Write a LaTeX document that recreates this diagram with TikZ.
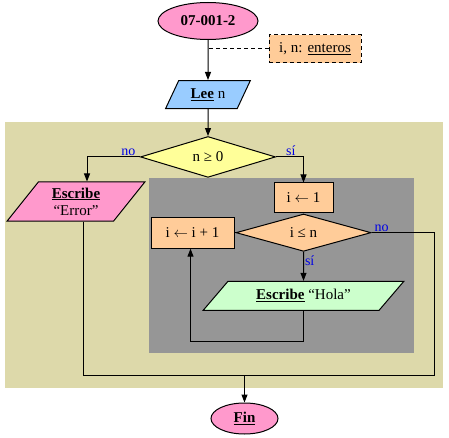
\documentclass[tikz,border=0pt]{standalone}
\usepackage{fontspec}
\setmainfont{Liberation Serif}
\usepackage{xcolor}
\usetikzlibrary{positioning,arrows.meta,shapes.geometric}

\definecolor{termpink}{RGB}{255,153,204}
\definecolor{declorange}{RGB}{255,204,153}
\definecolor{readblue}{RGB}{153,204,255}
\definecolor{condyellow}{RGB}{255,255,153}
\definecolor{writegreen}{RGB}{204,255,204}
\definecolor{outertan}{RGB}{221,217,170}
\definecolor{innergray}{RGB}{150,150,150}
\definecolor{lblblue}{RGB}{0,0,230}

\newcommand\flowfont{\fontsize{15}{17}\selectfont}
\newcommand\lblfont{\fontsize{14}{16}\selectfont}

\begin{document}
\begin{tikzpicture}[x=1pt, y=-1pt,
        terminal/.style={
            draw,
            ellipse,
            fill=termpink,
            inner sep=0pt,
            font=\flowfont\bfseries
        },
        iostep/.style={
            draw,
            trapezium,
            trapezium stretches=true,
            trapezium left angle=#1,
            trapezium right angle=180-#1,
            inner sep=0pt,
            align=center,
            font=\flowfont
        },
        procstep/.style={
            draw,
            fill=declorange,
            inner sep=0pt,
            align=center,
            font=\flowfont
        },
        condstep/.style={
            draw,
            diamond,
            inner sep=0pt,
            font=\flowfont
        },
        lbl/.style={text=lblblue, font=\lblfont, inner sep=1pt},
        line/.style={line width=1pt},
        arrow/.style={-{Triangle[length=8pt,width=6pt]}, line width=1pt},
        every node/.append style={line width=1pt}
    ]
        \useasboundingbox (0,0) rectangle (449,438);

        % background blocks
        \fill[outertan] (5,122) rectangle (443,388);
        \fill[innergray] (149,178) rectangle (414,353);

        \node[terminal, minimum width=100pt, minimum height=37pt] (start) at (208,21) {07-001-2};
        \node[procstep, dash pattern=on 4pt off 3pt, minimum width=92pt, minimum height=28pt] (decl) at (315,49) {i, n: \underline{enteros}};
        \node[iostep=57, fill=readblue, minimum width=85pt, minimum height=28pt, below=40pt of start] (lee) {\textbf{\underline{Lee}} n};
        \node[condstep, fill=condyellow, minimum width=135pt, minimum height=37pt, below=27pt of lee] (cond) {n ≥ 0};
        \node[iostep=54, fill=termpink, minimum width=138pt, minimum height=39pt] (error) at (76,201.5) {\textbf{\underline{Escribe}}\\“Error”};

        \node[procstep, minimum width=59pt, minimum height=30pt] (init) at (303.5,198) {i $\leftarrow$ 1};
        \node[condstep, fill=declorange, minimum width=135pt, minimum height=36pt, below=0pt of init] (loop) {i ≤ n};
        \node[procstep, minimum width=83pt, minimum height=31pt, left=1pt of loop] (incr) {i $\leftarrow$ i + 1};
        \node[iostep=39, fill=writegreen, minimum width=201pt, minimum height=29pt, below=29pt of loop] (hola) {\textbf{\underline{Escribe}} “Hola”};

        \node[terminal, minimum width=67pt, minimum height=31pt] (fin) at (244.5,418.5) {\underline{Fin}};
        \coordinate (join) at (244.5,375);

        \draw[arrow] (start) -- (lee);
        \draw[line, dash pattern=on 4pt off 3pt] (decl.west) -- (decl.west -| start.south);
        \draw[arrow] (lee) -- (cond);
        \draw[arrow] (cond.west) -| node[lbl, above, pos=0.11] (nolbl) {no} ([xshift=11pt]error.north);
        \draw[arrow] (cond.east) -| node[lbl, above, pos=0.27] (silbl) {sí} (init.north);
        \draw[line] (init) -- (loop);
        \draw[line] (loop.west) -- (incr.east);
        \draw[arrow] (loop) -- node[lbl, right, pos=0.3] (siloop) {sí} (hola);
        \draw[arrow] (hola.south) -- ++(0,31) -| ([xshift=-2pt]incr.south);
        \draw[line] (loop.east) -| node[lbl, above, pos=0.08] (noloop) {no} (434,375) -- (join);
        \draw[line] ([xshift=7pt]error.south) |- (join);
        \draw[arrow] (join) -- (fin);
    \end{tikzpicture}
\end{document}
